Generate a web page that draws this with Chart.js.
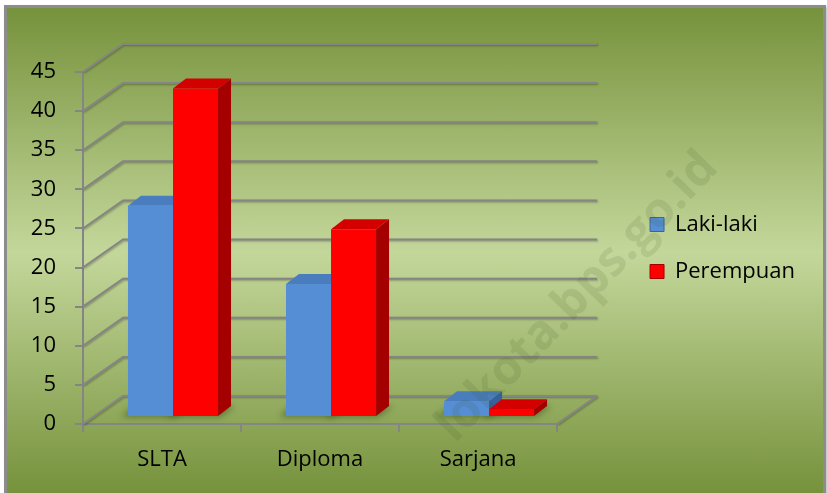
<!DOCTYPE html>
<html>
<head>
<meta charset="utf-8">
<script src="https://cdn.jsdelivr.net/npm/chart.js@4"></script>
<style>
  html, body { margin: 0; padding: 0; background: #fff; }
  #wrap { position: relative; width: 827px; height: 493px; overflow: hidden; }
  #panel {
    position: absolute; left: 4px; top: 5px; width: 816px; height: 500px;
    border: 3px solid #8c8c8c;
    box-shadow: 2px 2px 3px rgba(0, 0, 0, 0.25);
    background: linear-gradient(to bottom, #76923c 0px, #c4d79b 245px, #76923c 485px);
  }
  canvas { position: absolute; left: 0; top: 0; }
</style>
</head>
<body>
<div id="wrap">
  <div id="panel"></div>
  <canvas id="chart" width="827" height="493"></canvas>
</div>
<script>
const categories = ['SLTA', 'Diploma', 'Sarjana'];
const seriesNames = ['Laki-laki', 'Perempuan'];
const lakiLaki = [27, 17, 2];
const perempuan = [42, 24, 1];
const yMax = 45;
const yStep = 5;

// 3D look: offsets of the back wall, of the bar front faces and of the bar depth
const WALL_DX = 40, WALL_DY = -28;
const BAR_DX = 11, BAR_DY = -7;
const BOX_DX = 13, BOX_DY = -10;
const SIDE_GAP = 68; // room between the front plane and the legend

const faces = [
    { front: '#558ed5', top: '#4a7dbd', side: '#36619a' },
    { front: '#ff0000', top: '#d40000', side: '#a50000' }
];

const bar3d = {
    id: 'bar3d',
    afterLayout(chart) {
        // shrink the front plane so the back wall fits before the legend
        const area = chart.chartArea;
        const x = chart.scales.x;
        area.right = chart.legend.left - SIDE_GAP;
        area.width = area.right - area.left;
        x.right = area.right;
        x.width = area.width;
        x.configure();
    },
    beforeDatasetsDraw(chart) {
        const ctx = chart.ctx;
        const a = chart.chartArea;
        const y = chart.scales.y;

        // back wall + left wall grid lines
        ctx.save();
        ctx.strokeStyle = '#858585';
        ctx.lineWidth = 2;
        ctx.shadowColor = 'rgba(0, 0, 0, 0.3)';
        ctx.shadowBlur = 2;
        ctx.shadowOffsetX = 1;
        ctx.shadowOffsetY = 1;
        ctx.beginPath();
        for (let v = 0; v <= yMax; v += yStep) {
            const py = y.getPixelForValue(v);
            ctx.moveTo(a.left, py);
            ctx.lineTo(a.left + WALL_DX, py + WALL_DY);
            ctx.lineTo(a.right + WALL_DX, py + WALL_DY);
        }
        ctx.moveTo(a.right, a.bottom);
        ctx.lineTo(a.right + WALL_DX, a.bottom + WALL_DY);
        ctx.stroke();
        ctx.restore();

        const bars = [];
        categories.forEach((c, i) => {
            chart.data.datasets.forEach((ds, d) => {
                const el = chart.getDatasetMeta(d).data[i];
                const l = el.x - el.width / 2 + BAR_DX;
                const r = el.x + el.width / 2 + BAR_DX;
                bars.push({ l, r, t: el.y + BAR_DY, b: el.base + BAR_DY, f: faces[d] });
            });
        });

        // floor shadows
        ctx.save();
        ctx.filter = 'blur(3px)';
        ctx.fillStyle = 'rgba(40, 55, 15, 0.45)';
        bars.forEach(p => {
            ctx.beginPath();
            ctx.moveTo(p.l - 7, p.b + 1);
            ctx.lineTo(p.r + 2, p.b + 1);
            ctx.lineTo(p.r + BOX_DX + 4, p.b + BOX_DY);
            ctx.lineTo(p.l + BOX_DX - 7, p.b + BOX_DY);
            ctx.closePath();
            ctx.fill();
        });
        ctx.restore();

        // boxes
        ctx.save();
        bars.forEach(p => {
            ctx.fillStyle = p.f.front;
            ctx.fillRect(p.l, p.t, p.r - p.l, p.b - p.t);

            ctx.fillStyle = p.f.top;
            ctx.beginPath();
            ctx.moveTo(p.l, p.t);
            ctx.lineTo(p.l + BOX_DX, p.t + BOX_DY);
            ctx.lineTo(p.r + BOX_DX, p.t + BOX_DY);
            ctx.lineTo(p.r, p.t);
            ctx.closePath();
            ctx.fill();

            ctx.fillStyle = p.f.side;
            ctx.beginPath();
            ctx.moveTo(p.r, p.t);
            ctx.lineTo(p.r + BOX_DX, p.t + BOX_DY);
            ctx.lineTo(p.r + BOX_DX, p.b + BOX_DY);
            ctx.lineTo(p.r, p.b);
            ctx.closePath();
            ctx.fill();
        });
        ctx.restore();
        return false;
    },
    afterDraw(chart) {
        // faint watermark
        const ctx = chart.ctx;
        ctx.save();
        ctx.translate(710, 160);
        ctx.rotate(-46 * Math.PI / 180);
        ctx.font = "bold 48px 'Open Sans', sans-serif";
        ctx.fillStyle = 'rgba(60, 80, 30, 0.12)';
        ctx.textAlign = 'right';
        ctx.textBaseline = 'middle';
        ctx.fillText('lokota.bps.go.id', 0, 0);
        ctx.restore();
    }
};

Chart.defaults.font.family = "'Open Sans', sans-serif";
Chart.defaults.font.size = 22;
Chart.defaults.color = '#000';

new Chart(document.getElementById('chart'), {
    type: 'bar',
    data: {
        labels: categories,
        datasets: [
            {
                label: seriesNames[0],
                data: lakiLaki,
                backgroundColor: '#558ed5',
                borderColor: '#3a64a0',
                borderWidth: 1
            },
            {
                label: seriesNames[1],
                data: perempuan,
                backgroundColor: '#ff0000',
                borderColor: '#a50000',
                borderWidth: 1
            }
        ]
    },
    options: {
        responsive: false,
        animation: false,
        devicePixelRatio: 1,
        layout: { padding: { top: 72, left: 0, right: 22, bottom: 0 } },
        datasets: {
            bar: { categoryPercentage: 0.57, barPercentage: 1 }
        },
        plugins: {
            legend: {
                position: 'right',
                fullSize: false,
                labels: {
                    boxWidth: 14,
                    boxHeight: 14,
                    padding: 25,
                    font: { size: 22 }
                }
            },
            tooltip: { enabled: false }
        },
        scales: {
            x: {
                grid: {
                    drawOnChartArea: false,
                    drawTicks: true,
                    tickLength: 8,
                    color: '#858585',
                    lineWidth: 2
                },
                border: { display: true, color: '#858585', width: 2 },
                ticks: { padding: 15 },
                afterFit(scale) { scale.height = 69; }
            },
            y: {
                min: 0,
                max: yMax,
                ticks: { stepSize: yStep, padding: 19 },
                grid: {
                    drawOnChartArea: false,
                    drawTicks: true,
                    tickLength: 8,
                    color: '#858585',
                    lineWidth: 2
                },
                border: { display: true, color: '#858585', width: 2 },
                afterFit(scale) { scale.width = 83; }
            }
        }
    },
    plugins: [bar3d]
});
</script>
</body>
</html>
